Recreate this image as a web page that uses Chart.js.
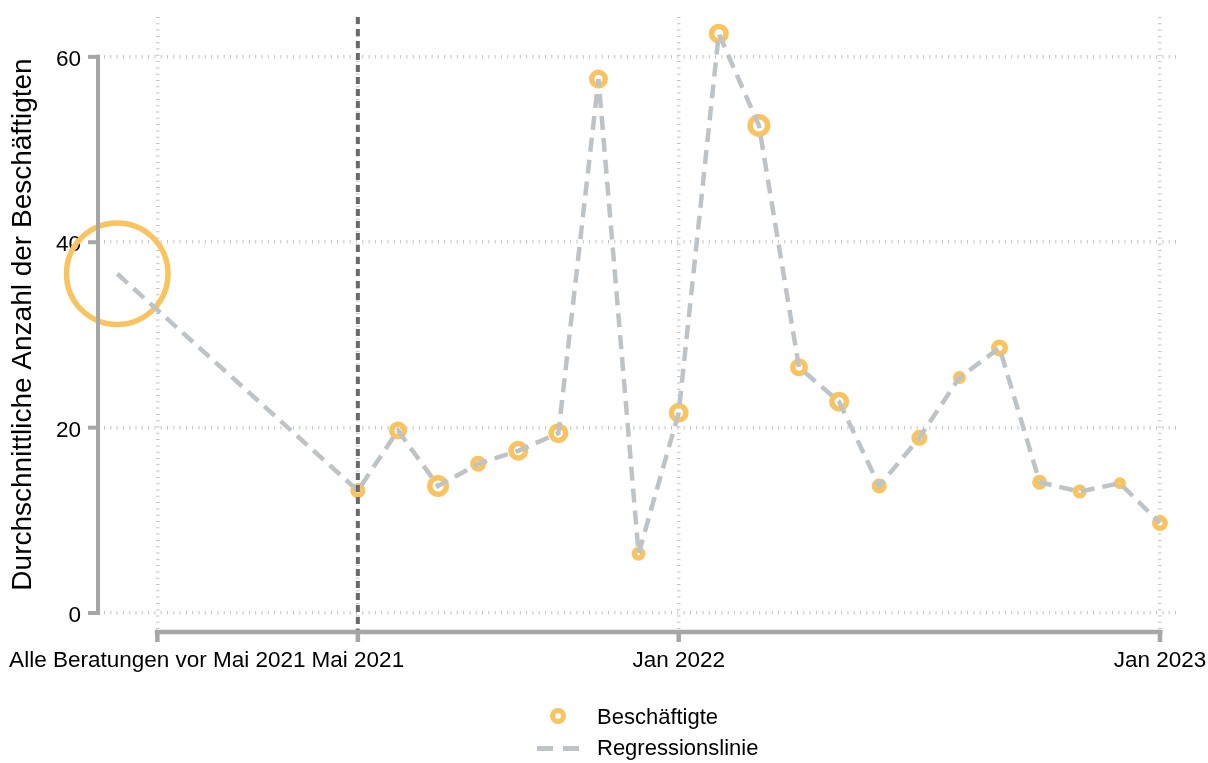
<!DOCTYPE html>
<html>
<head>
<meta charset="utf-8">
<script src="https://cdn.jsdelivr.net/npm/chart.js@4.4.0/dist/chart.umd.min.js"></script>
<style>
html, body { margin: 0; padding: 0; background: #fff; }
#wrap { position: relative; width: 1208px; height: 763px; }
.lg { position: absolute; font-family: "Liberation Sans", Arial, sans-serif; font-size: 22px; line-height: 26px; color: #000; white-space: nowrap; }
.ring { position: absolute; box-sizing: border-box; width: 16px; height: 16px; border: 5px solid #f9c460; border-radius: 50%; }
.dash { position: absolute; height: 5px; background: #bdc3c7; }
</style>
</head>
<body>
<div id="wrap">
  <canvas id="chart" width="1208" height="763"></canvas>
  <div class="ring" style="left:550px; top:708px;"></div>
  <div class="lg" style="left:597px; top:704px;">Beschäftigte</div>
  <div class="dash" style="left:537px; top:746px; width:16px;"></div>
  <div class="dash" style="left:563px; top:746px; width:16px;"></div>
  <div class="lg" style="left:597px; top:735px;">Regressionslinie</div>
</div>
<script>
// months since Mai 2021 (the pooled "before" value sits at -6)
var periods = ['Alle Beratungen vor Mai 2021', 'Mai 2021', 'Jun 2021', 'Jul 2021', 'Aug 2021', 'Sep 2021',
    'Okt 2021', 'Nov 2021', 'Dez 2021', 'Jan 2022', 'Feb 2022', 'Mär 2022', 'Apr 2022', 'Mai 2022',
    'Jun 2022', 'Jul 2022', 'Aug 2022', 'Sep 2022', 'Okt 2022', 'Nov 2022', 'Dez 2022', 'Jan 2023'];
var monthIndex = [-6, 0, 1, 2, 3, 4, 5, 6, 7, 8, 9, 10, 11, 12, 13, 14, 15, 16, 17, 18, 19, 20];
var beschaeftigte = [36.6, 13.2, 19.7, 13.7, 16.1, 17.5, 19.4, 57.6, 6.4, 21.6, 62.5, 52.6,
    26.5, 22.8, 13.7, 18.9, 25.4, 28.6, 14.1, 13.1, 14.0, 9.7];
// marker size (number of consultations behind each mean)
var markerSize = [53.5, 7.5, 9, 11, 8, 10, 10, 9.5, 7, 10, 10, 11.5, 9, 10, 7.5, 8, 6.5, 8.5, 7.5, 7, 6, 8];

var xTickValues = [-5, 0, 8, 20];
var xTickLabels = ['Alle Beratungen vor Mai 2021', 'Mai 2021', 'Jan 2022', 'Jan 2023'];
var yTickValues = [0, 20, 40, 60];

var orange = '#f9c460';
var lineGrey = '#bdc3c7';
var axisGrey = '#a6a6a6';
var ringWidth = 5.5;

Chart.defaults.font.family = '"Liberation Sans", Arial, sans-serif';
Chart.defaults.font.size = 22.5;
Chart.defaults.color = '#000';

var points = monthIndex.map(function(m, i) { return { x: m, y: beschaeftigte[i] }; });

var frame = {
    id: 'frame',
    afterDatasetsDraw: function(chart) {
        var ctx = chart.ctx, area = chart.chartArea;
        var x = chart.scales.x, y = chart.scales.y;
        ctx.save();
        ctx.lineCap = 'butt';

        // start of the observation period
        var x0 = x.getPixelForValue(0);
        ctx.strokeStyle = '#6a6a6a';
        ctx.lineWidth = 4;
        ctx.setLineDash([7, 5]);
        ctx.beginPath();
        ctx.moveTo(x0, area.top);
        ctx.lineTo(x0, area.bottom);
        ctx.stroke();
        ctx.setLineDash([]);

        ctx.strokeStyle = axisGrey;
        ctx.lineWidth = 4;
        // y axis (range frame)
        var ax = area.left - 6;
        ctx.beginPath();
        ctx.moveTo(ax, y.getPixelForValue(60) - 2);
        ctx.lineTo(ax, y.getPixelForValue(0) + 2);
        ctx.stroke();
        yTickValues.forEach(function(v) {
            var py = y.getPixelForValue(v);
            ctx.beginPath();
            ctx.moveTo(ax - 10, py);
            ctx.lineTo(ax + 2, py);
            ctx.stroke();
        });
        // x axis
        var ay = area.bottom;
        ctx.lineWidth = 4.5;
        ctx.beginPath();
        ctx.moveTo(x.getPixelForValue(-5) - 2.5, ay);
        ctx.lineTo(x.getPixelForValue(20) + 2.5, ay);
        ctx.stroke();
        xTickValues.forEach(function(v) {
            var px = x.getPixelForValue(v);
            ctx.beginPath();
            ctx.moveTo(px, ay - 2);
            ctx.lineTo(px, ay + 10);
            ctx.stroke();
        });
        ctx.restore();
    }
};

var gridStyle = { color: '#c4c4c4', lineWidth: 3.5, drawTicks: false };
var borderStyle = { display: false, dash: [1, 5.3] };

var config = {
    type: 'scatter',
    data: {
        datasets: [{
            label: 'Beschäftigte',
            data: points,
            showLine: false,
            pointRadius: markerSize.map(function(r) { return r - ringWidth / 2; }),
            pointHoverRadius: markerSize.map(function(r) { return r - ringWidth / 2; }),
            pointBorderWidth: ringWidth,
            pointHoverBorderWidth: ringWidth,
            pointBorderColor: orange,
            pointBackgroundColor: 'rgba(0,0,0,0)',
            clip: false,
            order: 2
        }, {
            label: 'Regressionslinie',
            type: 'line',
            data: points,
            borderColor: lineGrey,
            borderWidth: 4.5,
            borderDash: [14, 8],
            pointRadius: 0,
            fill: false,
            tension: 0,
            clip: false,
            order: 1
        }]
    },
    options: {
        responsive: false,
        animation: false,
        events: [],
        layout: { autoPadding: false, padding: { top: 17, right: 28, bottom: 0, left: 0 } },
        plugins: {
            legend: { display: false },
            tooltip: { enabled: false }
        },
        scales: {
            x: {
                type: 'linear',
                min: -6.33,
                max: 20.5,
                afterBuildTicks: function(s) {
                    s.ticks = xTickValues.map(function(v) { return { value: v }; });
                },
                afterFit: function(s) {
                    s.height = 131;
                    s.paddingLeft = 0;
                    s.paddingRight = 0;
                },
                ticks: {
                    autoSkip: false,
                    maxRotation: 0,
                    padding: 15,
                    callback: function(v) { return xTickLabels[xTickValues.indexOf(v)]; }
                },
                grid: gridStyle,
                border: borderStyle
            },
            y: {
                min: -2.05,
                max: 64.3,
                afterBuildTicks: function(s) {
                    s.ticks = yTickValues.map(function(v) { return { value: v }; });
                },
                afterFit: function(s) {
                    s.width = 104;
                    s.paddingTop = 0;
                    s.paddingBottom = 0;
                },
                ticks: { padding: 23, labelOffset: 3 },
                grid: gridStyle,
                border: borderStyle,
                title: {
                    display: true,
                    text: 'Durchschnittliche Anzahl der Beschäftigten',
                    font: { size: 28 },
                    padding: { top: 6, bottom: 0 }
                }
            }
        }
    },
    plugins: [frame]
};

window.onload = function() {
    var ctx = document.getElementById('chart').getContext('2d');
    window.myChart = new Chart(ctx, config);
};
</script>
</body>
</html>
